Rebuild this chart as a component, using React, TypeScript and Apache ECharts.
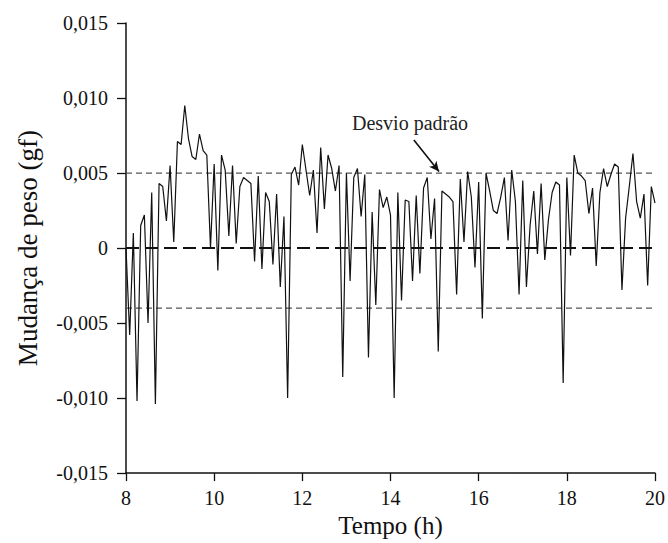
import React, { useEffect, useRef } from "react";
import * as echarts from "echarts";

// Weight change (gf) sampled every 5 minutes from 8 h to 20 h
const WEIGHT_CHANGE: number[] = [
  0.0, -0.0058, 0.001, -0.0102, 0.0015, 0.0022, -0.005, 0.0037, -0.0104, 0.0043,
  0.0041, 0.0018, 0.0055, 0.0004, 0.0071, 0.0069, 0.0095, 0.0073, 0.0061, 0.0059,
  0.0076, 0.0065, 0.0062, 0.0, 0.0056, -0.0015, 0.0062, 0.0052, 0.0008, 0.0055,
  0.0003, 0.0041, 0.0047, 0.0045, 0.0043, -0.0009, 0.0048, -0.0014, 0.0037, 0.0031,
  -0.0011, 0.0036, -0.0026, 0.0021, -0.01, 0.0049, 0.0054, 0.0042, 0.0069, 0.0052,
  0.0035, 0.0052, 0.001, 0.0067, 0.0026, 0.0062, 0.0053, 0.0038, 0.0055, -0.0086,
  0.005, -0.0022, 0.0047, 0.0053, 0.0021, 0.0049, -0.0073, 0.0024, -0.0038, 0.0039,
  0.0027, 0.0034, 0.0022, -0.01, 0.0037, -0.0035, 0.0032, 0.0031, -0.0022, 0.0035,
  -0.0017, 0.004, 0.0047, 0.0006, 0.0033, -0.0069, 0.0038, 0.0036, 0.0034, 0.0031,
  -0.0031, 0.0046, 0.0004, 0.0051, 0.0034, -0.0013, 0.0044, -0.0047, 0.005, 0.0038,
  0.0025, 0.0023, 0.0034, 0.0047, 0.0005, 0.0052, 0.0031, -0.0031, 0.0045, -0.0026,
  0.0015, 0.0038, -0.0004, 0.0043, -0.0008, 0.0019, 0.0037, 0.0044, 0.0042, -0.009,
  0.0047, -0.0005, 0.0062, 0.005, 0.0048, 0.0045, 0.0023, 0.004, -0.0012, 0.0037,
  0.0053, 0.0041, 0.0049, 0.0056, 0.0054, -0.0028, 0.002, 0.0041, 0.0063, 0.0031,
  0.002, 0.0036, -0.0025, 0.0041, 0.003,
];
const START_HOUR = 8;
const STEP_MINUTES = 5;
const X_MIN = 8;
const X_MAX = 20;
const X_INTERVAL = 2;
const Y_MIN = -0.015;
const Y_MAX = 0.015;
const Y_INTERVAL = 0.005;
const STD_UPPER = 0.005;
const STD_LOWER = -0.004;
const ZERO_LINE = 0;
const ARROW_START: [number, number] = [14.53, 0.0072];
const ARROW_END: [number, number] = [15.1, 0.0051];
const ANNOTATION = "Desvio padrão";
const X_NAME = "Tempo (h)";
const Y_NAME = "Mudança de peso (gf)";

const FONT = "Times New Roman";

export default function App() {
  const ref = useRef<HTMLDivElement>(null);
  useEffect(() => {
    if (!ref.current) return;
    const chart = echarts.init(ref.current, undefined, { renderer: "svg" });
    const seriesData = WEIGHT_CHANGE.map((v, i) => [
      START_HOUR + (i * STEP_MINUTES) / 60,
      v,
    ]);
    const fmtY = (v: number) =>
      Math.abs(v) < 1e-9 ? "0" : v.toFixed(3).replace(".", ",");
    const refLine = (v: number, color: string, width: number, dash: number[]) => ({
      type: "line",
      data: [
        [X_MIN, v],
        [X_MAX, v],
      ],
      symbol: "none",
      showSymbol: false,
      silent: true,
      lineStyle: { color, width, type: dash },
      z: 2,
    });
    chart.setOption({
      animation: false,
      backgroundColor: "#ffffff",
      textStyle: { fontFamily: FONT },
      grid: { left: 126, right: 11, top: 23, bottom: 67, containLabel: false },
      xAxis: {
        type: "value",
        min: X_MIN,
        max: X_MAX,
        interval: X_INTERVAL,
        name: X_NAME,
        nameLocation: "middle",
        nameGap: 34,
        nameTextStyle: { fontFamily: FONT, fontSize: 25, color: "#111" },
        axisLine: { onZero: false, lineStyle: { color: "#111", width: 1.5 } },
        axisTick: { show: true, length: 8, lineStyle: { color: "#111", width: 1.3 } },
        axisLabel: { fontFamily: FONT, fontSize: 20, color: "#111", margin: 15 },
        splitLine: { show: false },
      },
      yAxis: {
        type: "value",
        min: Y_MIN,
        max: Y_MAX,
        interval: Y_INTERVAL,
        name: Y_NAME,
        nameLocation: "middle",
        nameGap: 85,
        nameTextStyle: { fontFamily: FONT, fontSize: 27, color: "#111" },
        axisLine: { show: true, onZero: false, lineStyle: { color: "#111", width: 1.5 } },
        axisTick: { show: true, length: 9, lineStyle: { color: "#111", width: 1.3 } },
        axisLabel: {
          fontFamily: FONT,
          fontSize: 20,
          color: "#111",
          margin: 18,
          formatter: fmtY,
        },
        splitLine: { show: false },
      },
      graphic: [
        {
          type: "text",
          x: 410,
          y: 123,
          style: {
            text: ANNOTATION,
            fontFamily: FONT,
            fontSize: 20,
            fill: "#222",
            textAlign: "center",
            textVerticalAlign: "middle",
          },
        },
      ],
      series: [
        refLine(STD_UPPER, "#555", 1.2, [6, 4]),
        refLine(ZERO_LINE, "#111", 2, [13, 6]),
        refLine(STD_LOWER, "#555", 1.2, [6, 4]),
        {
          type: "line",
          data: seriesData,
          showSymbol: false,
          symbol: "none",
          lineStyle: { color: "#111", width: 1.2 },
          z: 3,
          markLine: {
            silent: true,
            symbol: ["none", "arrow"],
            symbolSize: [7, 10],
            label: { show: false },
            lineStyle: { color: "#111", width: 1.6, type: "solid" },
            data: [[{ coord: ARROW_START }, { coord: ARROW_END }]],
          },
        },
      ],
    });
    return () => chart.dispose();
  }, []);
  return (
    <div
      ref={ref}
      style={{ position: "fixed", left: 0, top: 0, width: 668, height: 543 }}
    />
  );
}
